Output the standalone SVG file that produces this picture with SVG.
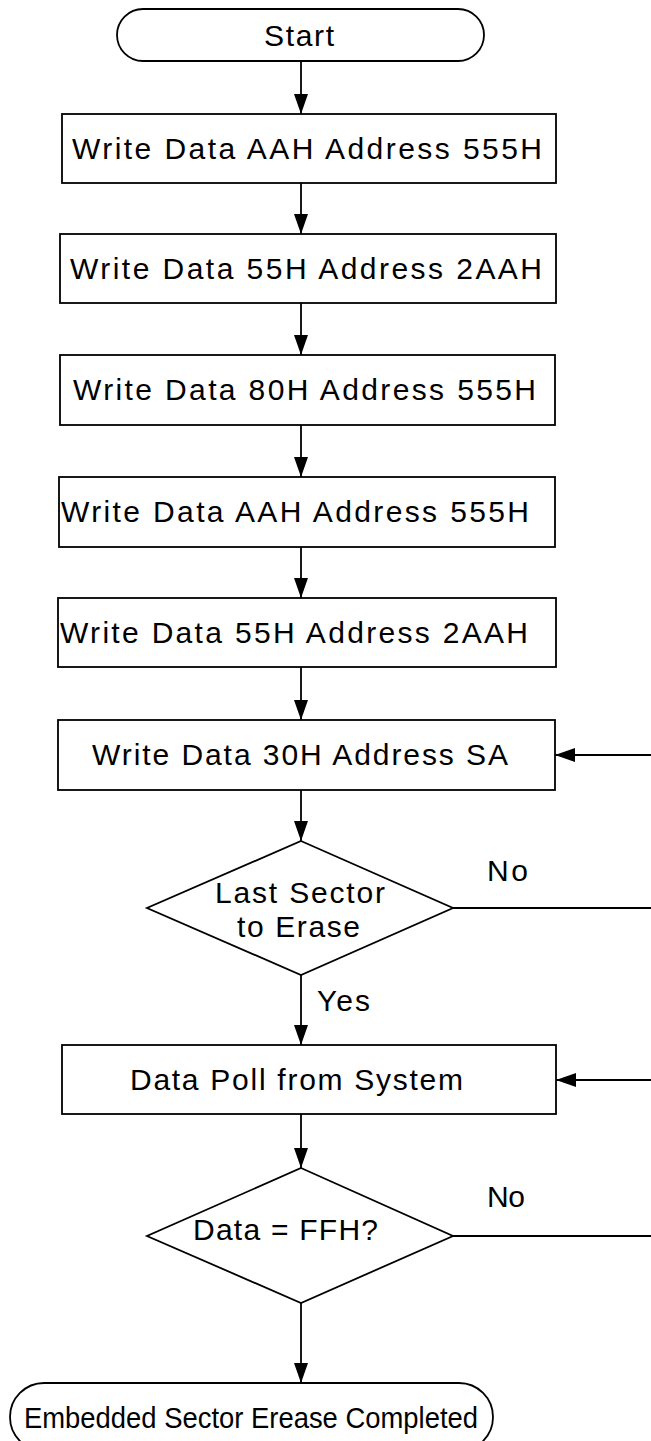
<svg xmlns="http://www.w3.org/2000/svg" width="651" height="1441" viewBox="0 0 651 1441">
<style>
.s{fill:#fff;stroke:#000;stroke-width:1.8}
.c{fill:none;stroke:#000;stroke-width:1.8}
text{font-family:"Liberation Sans",Arial,sans-serif;font-size:30px;fill:#000}
</style>
<defs>
<marker id="ah" markerWidth="20" markerHeight="14" refX="20" refY="7" orient="auto" markerUnits="userSpaceOnUse"><path d="M0,0 L20,7 L0,14 Z" fill="#000"/></marker>
</defs>
<rect width="651" height="1441" fill="#fff"/>
<g id="connectors">
<line class="c" x1="301" y1="61" x2="301" y2="114" marker-end="url(#ah)"/>
<line class="c" x1="301" y1="183" x2="301" y2="234" marker-end="url(#ah)"/>
<line class="c" x1="301" y1="303" x2="301" y2="355" marker-end="url(#ah)"/>
<line class="c" x1="301" y1="425" x2="301" y2="477" marker-end="url(#ah)"/>
<line class="c" x1="301" y1="547" x2="301" y2="598" marker-end="url(#ah)"/>
<line class="c" x1="301" y1="667" x2="301" y2="720" marker-end="url(#ah)"/>
<line class="c" x1="301" y1="790" x2="301" y2="841" marker-end="url(#ah)"/>
<line class="c" x1="301" y1="975" x2="301" y2="1045" marker-end="url(#ah)"/>
<line class="c" x1="301" y1="1114" x2="301" y2="1168" marker-end="url(#ah)"/>
<line class="c" x1="301" y1="1303" x2="301" y2="1383" marker-end="url(#ah)"/>
<line class="c" x1="453" y1="908" x2="651" y2="908"/>
<line class="c" x1="651" y1="755" x2="555" y2="755" marker-end="url(#ah)"/>
<line class="c" x1="453" y1="1236" x2="651" y2="1236"/>
<line class="c" x1="651" y1="1080" x2="556" y2="1080" marker-end="url(#ah)"/>
<text x="487" y="881" textLength="41" lengthAdjust="spacing">No</text>
<text x="317" y="1011" textLength="53" lengthAdjust="spacing">Yes</text>
<text x="487" y="1207" textLength="38" lengthAdjust="spacing">No</text>
</g>
<g id="start">
<rect class="s" x="117" y="9" width="367" height="52" rx="26" ry="26"/>
<text x="264" y="46" textLength="70" lengthAdjust="spacing">Start</text>
</g>
<g id="step1">
<rect class="s" x="62" y="114" width="494" height="69"/>
<text x="72" y="159" textLength="470" lengthAdjust="spacing">Write Data AAH Address 555H</text>
</g>
<g id="step2">
<rect class="s" x="60" y="234" width="496" height="69"/>
<text x="70" y="279" textLength="472" lengthAdjust="spacing">Write Data 55H Address 2AAH</text>
</g>
<g id="step3">
<rect class="s" x="60" y="355" width="495" height="70"/>
<text x="73" y="400" textLength="463" lengthAdjust="spacing">Write Data 80H Address 555H</text>
</g>
<g id="step4">
<rect class="s" x="59" y="477" width="496" height="70"/>
<text x="61" y="522" textLength="468" lengthAdjust="spacing">Write Data AAH Address 555H</text>
</g>
<g id="step5">
<rect class="s" x="58" y="598" width="498" height="69"/>
<text x="60" y="643" textLength="468" lengthAdjust="spacing">Write Data 55H Address 2AAH</text>
</g>
<g id="step6">
<rect class="s" x="58" y="720" width="497" height="70"/>
<text x="92" y="765" textLength="416" lengthAdjust="spacing">Write Data 30H Address SA</text>
</g>
<g id="decision1">
<polygon class="s" points="301,841 453,908 301,975 147,908"/>
<text x="215" y="903" textLength="170" lengthAdjust="spacing">Last Sector</text>
<text x="237" y="937" textLength="123" lengthAdjust="spacing">to Erase</text>
</g>
<g id="poll">
<rect class="s" x="62" y="1045" width="494" height="69"/>
<text x="130" y="1090" textLength="333" lengthAdjust="spacing">Data Poll from System</text>
</g>
<g id="decision2">
<polygon class="s" points="301,1168 453,1236 301,1303 147,1236"/>
<text x="193" y="1240" textLength="185" lengthAdjust="spacing">Data = FFH?</text>
</g>
<g id="end">
<rect class="s" x="10" y="1383" width="483" height="68" rx="34" ry="34"/>
<text x="24" y="1428" font-size="28" textLength="454" lengthAdjust="spacingAndGlyphs">Embedded Sector Erease Completed</text>
</g>
</svg>
